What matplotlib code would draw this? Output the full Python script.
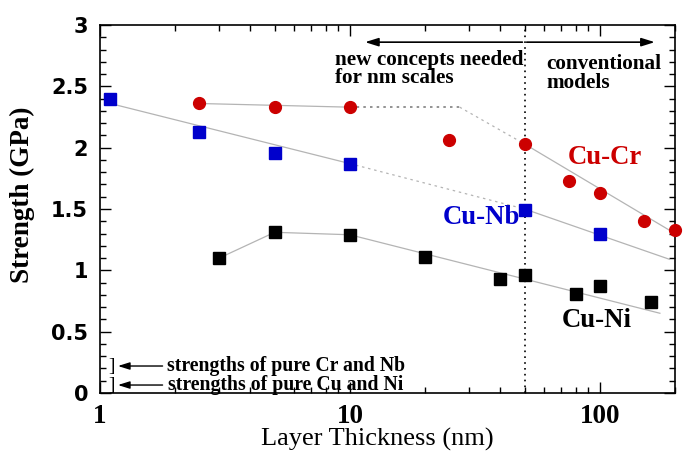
# Strength vs layer thickness for Cu-based multilayers
import numpy as np
import matplotlib.pyplot as plt
from matplotlib.ticker import FixedLocator, NullFormatter, MultipleLocator, FormatStrFormatter

# measured points
nb_h = [1.1, 2.5, 5, 10, 50, 100]
nb_s = [2.40, 2.13, 1.96, 1.87, 1.49, 1.30]

cr_h = [2.5, 5, 10, 25, 50, 75, 100, 150, 200]
cr_s = [2.36, 2.33, 2.33, 2.06, 2.03, 1.73, 1.63, 1.40, 1.33]

ni_h = [3, 5, 10, 20, 40, 50, 80, 100, 160]
ni_s = [1.10, 1.31, 1.29, 1.11, 0.93, 0.96, 0.81, 0.87, 0.74]

# guide lines (solid / dotted pieces)
nb_fit1_h, nb_fit1_s = [1.1, 10], [2.36, 1.87]
nb_fit2_h, nb_fit2_s = [10, 50], [1.87, 1.50]
nb_fit3_h, nb_fit3_s = [50, 190], [1.50, 1.09]

cr_fit1_h, cr_fit1_s = [2.5, 10], [2.36, 2.33]
cr_fit2_h, cr_fit2_s = [10, 27.5], [2.33, 2.33]
cr_fit3_h, cr_fit3_s = [27.5, 50], [2.33, 2.03]
cr_fit4_h, cr_fit4_s = [50, 200], [2.03, 1.30]

ni_fit_h = [3, 5, 10, 174]
ni_fit_s = [1.10, 1.31, 1.29, 0.65]

red = "#cc0000"
blue = "#0000cc"
gray = "#b4b4b4"
serif = "Liberation Serif"
sans = "DejaVu Sans"

fig = plt.figure(figsize=(6.83, 4.51), dpi=100)
ax = fig.add_axes([0.1464, 0.1286, 0.8419, 0.816])

# guide lines
ax.plot(nb_fit1_h, nb_fit1_s, color=gray, lw=0.9)
ax.plot(nb_fit2_h, nb_fit2_s, color=gray, lw=0.9, ls=(0, (2, 3)))
ax.plot(nb_fit3_h, nb_fit3_s, color=gray, lw=0.9)
ax.plot(cr_fit1_h, cr_fit1_s, color=gray, lw=0.9)
ax.plot(cr_fit2_h, cr_fit2_s, color="#808080", lw=1.2, ls=(0, (1.5, 2.5)))
ax.plot(cr_fit3_h, cr_fit3_s, color=gray, lw=0.9, ls=(0, (2, 3)))
ax.plot(cr_fit4_h, cr_fit4_s, color=gray, lw=0.9)
ax.plot(ni_fit_h, ni_fit_s, color=gray, lw=0.9)

# data
ax.plot(nb_h, nb_s, "s", color=blue, ms=8.5, mec=blue, clip_on=False, zorder=5)
ax.plot(cr_h, cr_s, "o", color=red, ms=8.5, mec=red, clip_on=False, zorder=5)
ax.plot(ni_h, ni_s, "s", color="black", ms=8.5, clip_on=False, zorder=5)

# boundary between regimes
ax.axvline(50, color="black", lw=1.2, ls=(0, (1, 2.5)))

ax.set_xscale("log")
ax.set_xlim(1, 200)
ax.set_ylim(0, 3)

# regime arrows
ax.annotate("", xy=(11.5, 2.86), xytext=(49, 2.86),
            arrowprops=dict(arrowstyle="-|>,head_length=0.8,head_width=0.25",
                            color="black", lw=1.2, shrinkA=0, shrinkB=0))
ax.annotate("", xy=(166, 2.86), xytext=(51, 2.86),
            arrowprops=dict(arrowstyle="-|>,head_length=0.8,head_width=0.25",
                            color="black", lw=1.2, shrinkA=0, shrinkB=0))
ax.text(8.7, 2.80, "new concepts needed\nfor nm scales", family=serif,
        fontweight="bold", fontsize=15.3, va="top", ha="left", linespacing=0.9)
ax.text(61, 2.76, "conventional\nmodels", family=serif,
        fontweight="bold", fontsize=15.3, va="top", ha="left", linespacing=0.9)

# series labels
ax.text(105, 1.92, "Cu-Cr", color=red, family=serif, fontweight="bold",
        fontsize=19.3, ha="center", va="center")
ax.text(33.5, 1.43, "Cu-Nb", color=blue, family=serif, fontweight="bold",
        fontsize=19.3, ha="center", va="center")
ax.text(97, 0.595, "Cu-Ni", color="black", family=serif, fontweight="bold",
        fontsize=19.3, ha="center", va="center")

# pure element strengths
for yv, x0, txt in [(0.22, 1.85, "strengths of pure Cr and Nb"),
                    (0.065, 1.87, "strengths of pure Cu and Ni")]:
    ax.text(1.11, yv, "]", family=serif, fontsize=14, ha="center", va="center")
    ax.annotate("", xy=(1.18, yv), xytext=(1.78, yv),
                arrowprops=dict(arrowstyle="-|>,head_length=0.7,head_width=0.22",
                                color="black", lw=1.0, shrinkA=0, shrinkB=0))
    ax.text(x0, yv, txt, family=serif, fontweight="bold", fontsize=14.2,
            ha="left", va="center")

# ticks
ax.yaxis.set_major_locator(MultipleLocator(0.5))
ax.yaxis.set_minor_locator(MultipleLocator(0.1))
ax.yaxis.set_major_formatter(FormatStrFormatter("%g"))
ax.xaxis.set_major_locator(FixedLocator([1, 10, 100]))
ax.xaxis.set_major_formatter(plt.FixedFormatter(["1", "10", "100"]))
minor = [m * d for d in [1, 10, 100] for m in range(2, 10) if m * d <= 200]
ax.xaxis.set_minor_locator(FixedLocator(minor))
ax.xaxis.set_minor_formatter(NullFormatter())
ax.tick_params(which="both", direction="in", top=True, right=True, width=1.0)
ax.tick_params(which="major", length=8)
ax.tick_params(which="minor", length=4)
ax.tick_params(axis="x", pad=8)
ax.tick_params(axis="y", pad=8.5)
for lab in ax.get_xticklabels():
    lab.set_family(serif)
    lab.set_fontweight("bold")
    lab.set_fontsize(19.5)
for lab in ax.get_yticklabels():
    lab.set_family(sans)
    lab.set_fontweight("bold")
    lab.set_fontsize(15)
for sp in ax.spines.values():
    sp.set_linewidth(1.2)

ax.set_xlabel("Layer Thickness (nm)", family=serif, fontsize=19)
ax.xaxis.set_label_coords(0.482, -0.095)
ax.set_ylabel("Strength (GPa)", family=serif, fontweight="bold", fontsize=19.5)
ax.yaxis.set_label_coords(-0.113, 0.538)

fig.savefig("out.png", dpi=100)
